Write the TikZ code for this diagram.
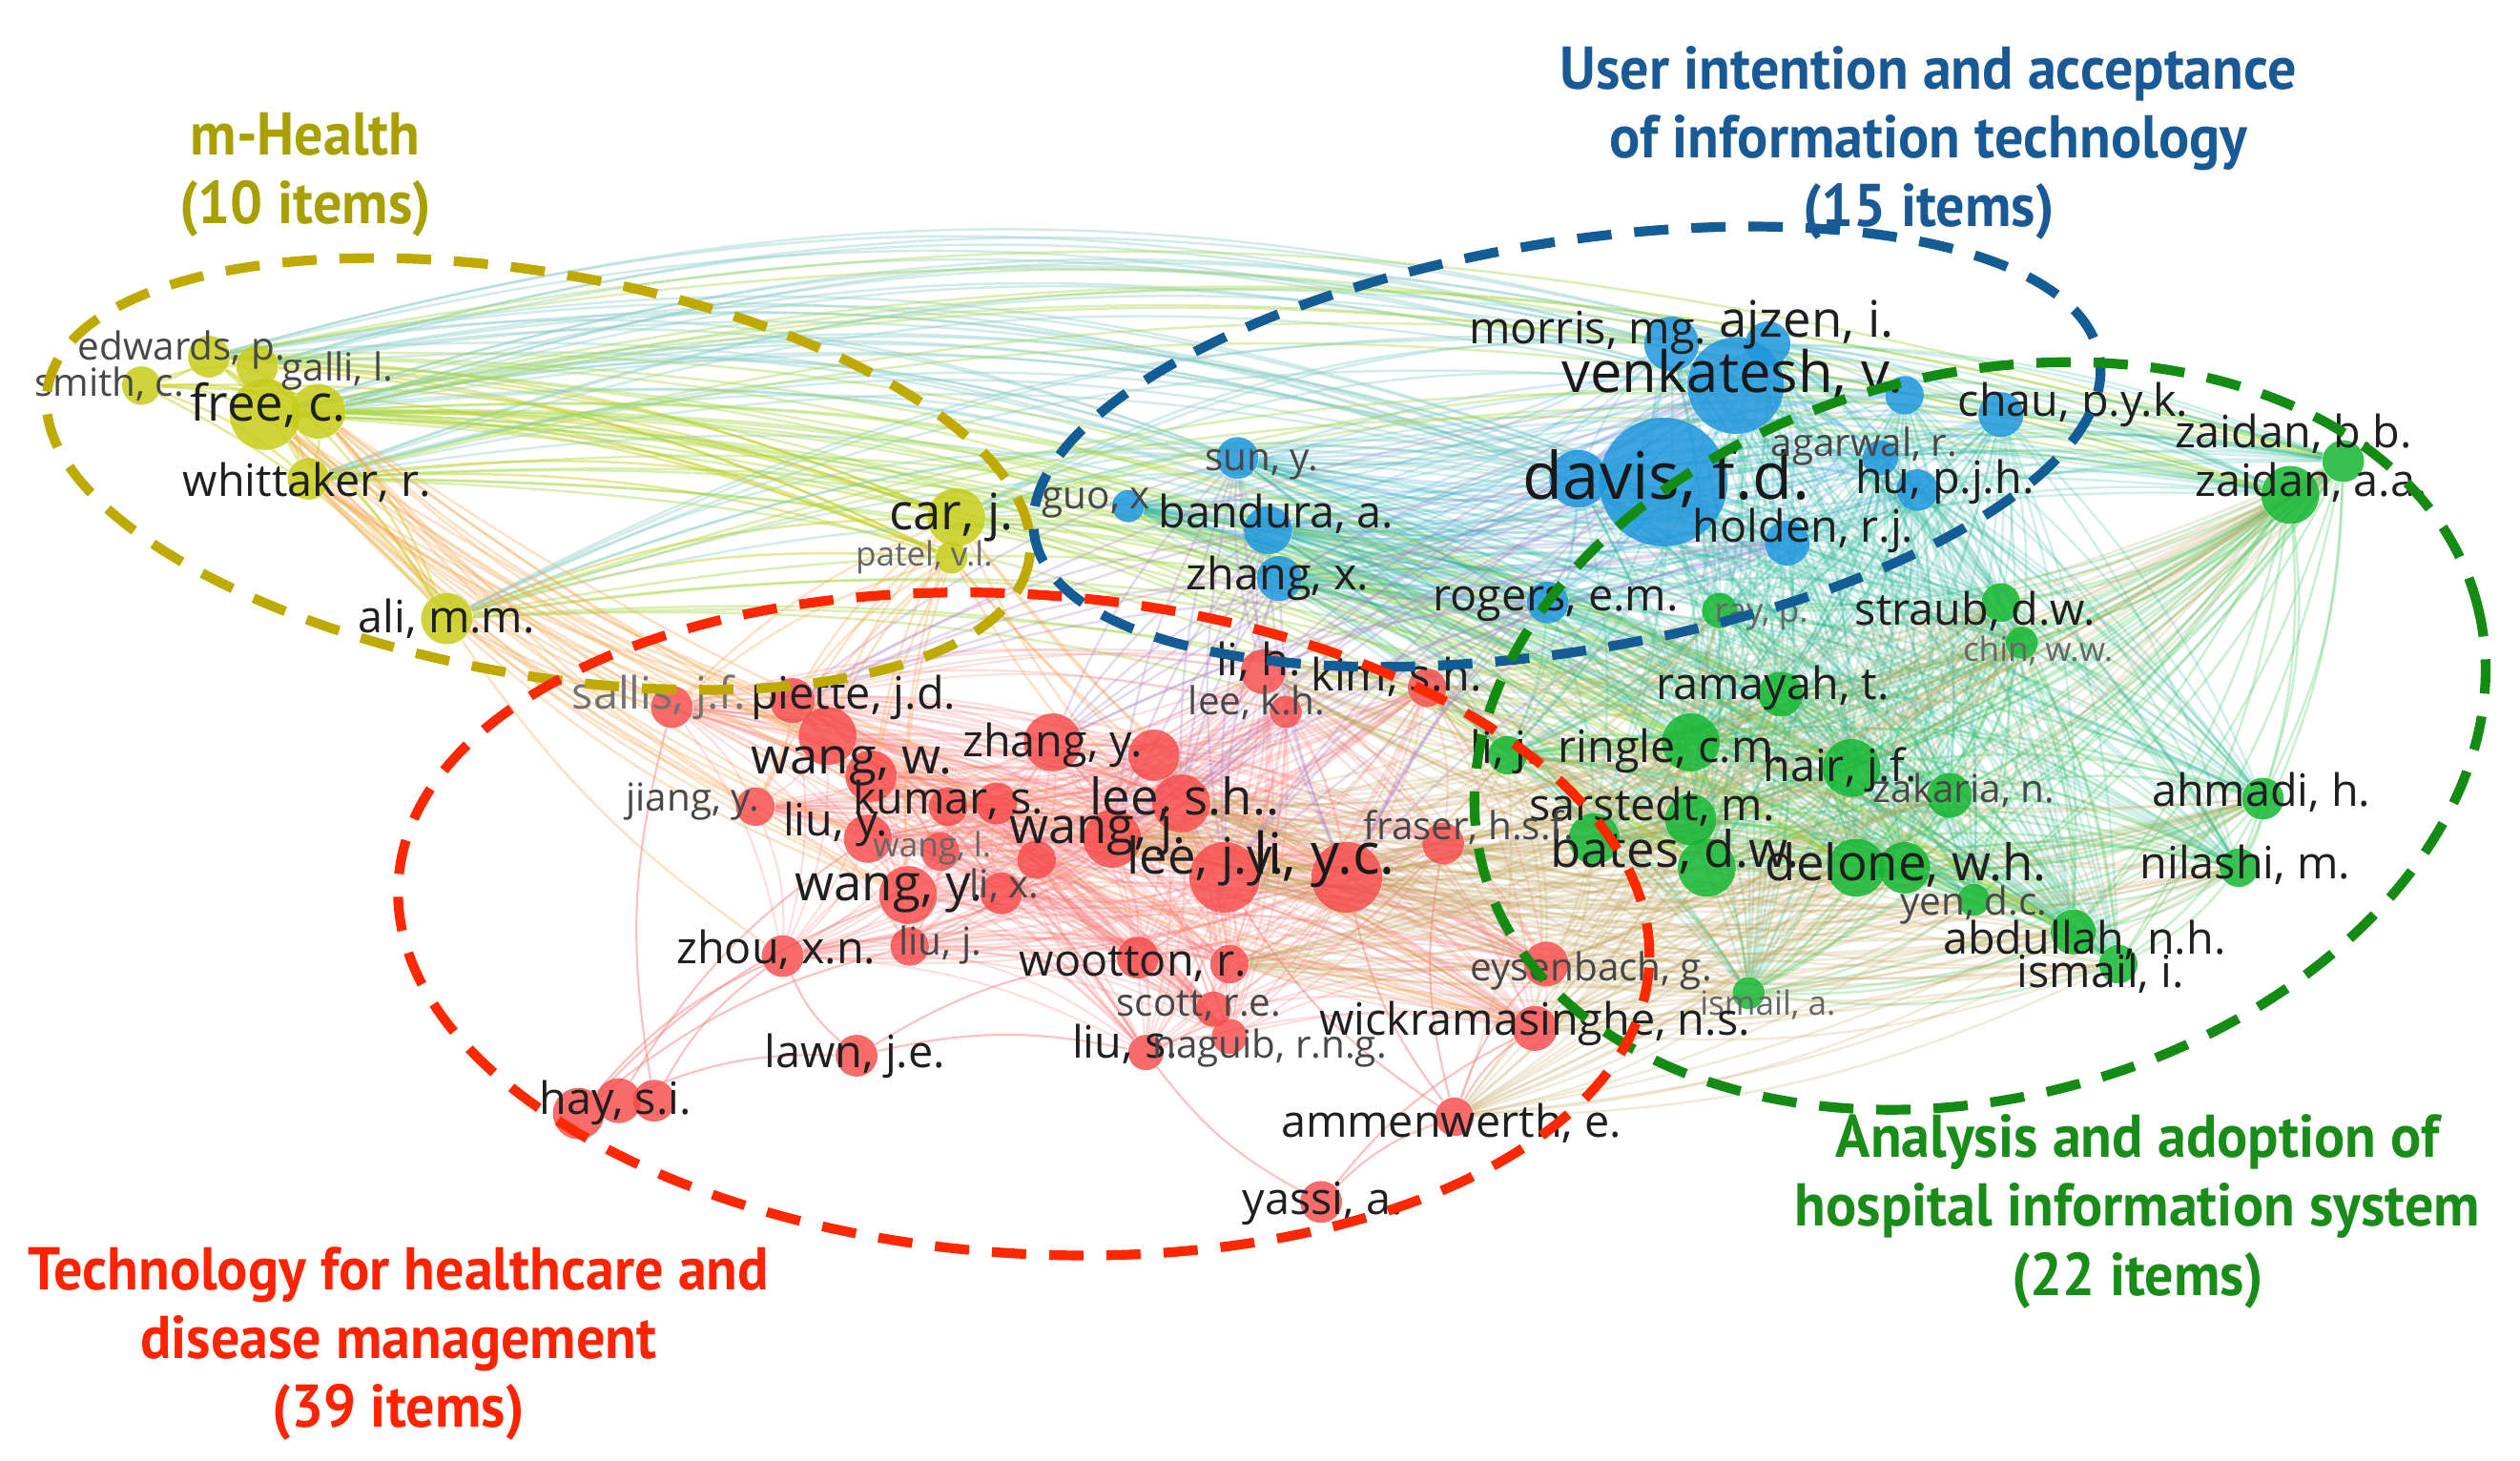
\documentclass[tikz,border=0pt]{standalone}
\usepackage{fontspec}
\setmainfont{Open Sans}
\newfontfamily\ttlfont[FakeStretch=0.95]{PT Sans}
\usetikzlibrary{positioning}
\pgfdeclarelayer{background}
\pgfsetlayers{background,main}

\definecolor{ycol}{RGB}{198,204,24}
\definecolor{bcol}{RGB}{30,150,220}
\definecolor{gcol}{RGB}{20,182,50}
\definecolor{rcol}{RGB}{246,70,70}
\definecolor{yell}{RGB}{190,170,0}
\definecolor{bell}{RGB}{20,92,150}
\definecolor{gell}{RGB}{20,140,20}
\definecolor{rell}{RGB}{255,40,0}
\definecolor{ytt}{RGB}{168,160,0}
\definecolor{btt}{RGB}{25,90,150}
\definecolor{gtt}{RGB}{25,140,25}
\definecolor{rtt}{RGB}{255,35,0}

\begin{document}
\begin{tikzpicture}[x=0.1685mm, y=-0.1685mm,
    ynd/.style={circle, inner sep=0pt, fill=ycol, fill opacity=0.85, minimum size=#1*0.959pt},
    bnd/.style={circle, inner sep=0pt, fill=bcol, fill opacity=0.85, minimum size=#1*0.959pt},
    gnd/.style={circle, inner sep=0pt, fill=gcol, fill opacity=0.85, minimum size=#1*0.959pt},
    rnd/.style={circle, inner sep=0pt, fill=rcol, fill opacity=0.8, minimum size=#1*0.959pt},
    lt/.style={font=\fontsize{10}{12}\selectfont, text=black!60, inner sep=0pt},
    ls/.style={font=\fontsize{11.5}{13}\selectfont, text=black!72, inner sep=0pt},
    ln/.style={font=\fontsize{13.3}{15}\selectfont, text=black!88, inner sep=0pt},
    lb/.style={font=\fontsize{15}{17}\selectfont, text=black!88, inner sep=0pt},
    lh/.style={font=\fontsize{17}{19}\selectfont, text=black!90, inner sep=0pt},
    lg/.style={font=\fontsize{19.5}{22}\selectfont, text=black!90, inner sep=0pt},
    yedge/.style={draw=ycol, line width=0.7pt, opacity=0.45},
    bedge/.style={draw=bcol!70, line width=0.7pt, opacity=0.3},
    gedge/.style={draw=gcol!75, line width=0.7pt, opacity=0.3},
    redge/.style={draw=rcol!75, line width=0.6pt, opacity=0.24},
    ybedge/.style={draw={rgb,255:red,140;green,205;blue,200}, line width=0.7pt, opacity=0.4},
    ygedge/.style={draw={rgb,255:red,165;green,215;blue,70}, line width=0.7pt, opacity=0.4},
    yredge/.style={draw={rgb,255:red,248;green,170;blue,90}, line width=0.7pt, opacity=0.35},
    bgedge/.style={draw={rgb,255:red,40;green,180;blue,150}, line width=0.7pt, opacity=0.22},
    rgedge/.style={draw={rgb,255:red,190;green,160;blue,90}, line width=0.7pt, opacity=0.22},
    rbedge/.style={draw={rgb,255:red,170;green,130;blue,200}, line width=0.7pt, opacity=0.3},
    cldash/.style={line width=2.9pt, dash pattern=on 3.6mm off 2.4mm},
    ttl/.style={font=\ttlfont\bfseries\fontsize{18}{20.5}\selectfont, align=center, inner sep=0pt}
]
\useasboundingbox (0,0) rectangle (1568,909);

% m-Health
\node[ynd=13] (y1) at (130,222) {};
\node[ynd=12] (y2) at (88,240) {};
\node[ynd=22] (y3) at (165,258) {};
\node[ynd=17] (y4) at (198,256) {};
\node[ynd=13] (y5) at (160,228) {};
\node[ynd=13] (y6) at (192,298) {};
\node[ynd=16] (y7) at (278,385) {};
\node[ynd=18] (y8) at (595,322) {};
\node[ynd=10] (y9) at (592,347) {};

% user intention and acceptance
\node[bnd=40] (b1) at (1035,300) {};
\node[bnd=18] (b2) at (982,298) {};
\node[bnd=30] (b3) at (1080,240) {};
\node[bnd=17] (b4) at (1040,214) {};
\node[bnd=14] (b5) at (1100,214) {};
\node[bnd=14] (b6) at (1245,258) {};
\node[bnd=11] (b7) at (1170,285) {};
\node[bnd=13] (b8) at (1193,305) {};
\node[bnd=14] (b9) at (1112,338) {};
\node[bnd=13] (b10) at (963,375) {};
\node[bnd=14] (b11) at (796,360) {};
\node[bnd=15] (b12) at (789,330) {};
\node[bnd=13] (b13) at (770,285) {};
\node[bnd=10] (b14) at (702,315) {};
\node[bnd=12] (b15) at (1185,246) {};

% hospital information system
\node[gnd=18] (g1) at (1425,308) {};
\node[gnd=13] (g2) at (1458,287) {};
\node[gnd=12] (g3) at (1245,375) {};
\node[gnd=11] (g4) at (1070,380) {};
\node[gnd=10] (g5) at (1258,400) {};
\node[gnd=14] (g6) at (1108,432) {};
\node[gnd=12] (g7) at (938,470) {};
\node[gnd=18] (g8) at (1052,462) {};
\node[gnd=18] (g9) at (1152,478) {};
\node[gnd=14] (g10) at (1213,495) {};
\node[gnd=13] (g11) at (1408,497) {};
\node[gnd=16] (g12) at (1052,510) {};
\node[gnd=18] (g13) at (1062,540) {};
\node[gnd=16] (g14) at (992,522) {};
\node[gnd=18] (g15) at (1155,540) {};
\node[gnd=16] (g16) at (1185,540) {};
\node[gnd=12] (g17) at (1393,540) {};
\node[gnd=10] (g18) at (1228,560) {};
\node[gnd=14] (g19) at (1290,580) {};
\node[gnd=12] (g20) at (1318,600) {};
\node[gnd=10] (g21) at (1088,618) {};

% healthcare and disease management
\node[rnd=13] (r1) at (418,440) {};
\node[rnd=14] (r2) at (493,436) {};
\node[rnd=14] (r3) at (786,418) {};
\node[rnd=10] (r4) at (800,443) {};
\node[rnd=12] (r5) at (888,428) {};
\node[rnd=18] (r6) at (655,462) {};
\node[rnd=16] (r7) at (718,470) {};
\node[rnd=18] (r8) at (515,458) {};
\node[rnd=16] (r9) at (542,483) {};
\node[rnd=12] (r10) at (590,502) {};
\node[rnd=18] (r11) at (735,500) {};
\node[rnd=12] (r12) at (470,502) {};
\node[rnd=15] (r13) at (540,522) {};
\node[rnd=18] (r14) at (692,522) {};
\node[rnd=12] (r15) at (585,530) {};
\node[rnd=22] (r16) at (762,546) {};
\node[rnd=22] (r17) at (838,546) {};
\node[rnd=13] (r18) at (898,525) {};
\node[rnd=18] (r19) at (565,557) {};
\node[rnd=13] (r20) at (623,556) {};
\node[rnd=13] (r21) at (487,595) {};
\node[rnd=12] (r22) at (566,589) {};
\node[rnd=13] (r23) at (708,596) {};
\node[rnd=12] (r24) at (765,600) {};
\node[rnd=11] (r25) at (755,628) {};
\node[rnd=11] (r26) at (713,655) {};
\node[rnd=11] (r27) at (765,645) {};
\node[rnd=14] (r28) at (962,600) {};
\node[rnd=14] (r29) at (955,640) {};
\node[rnd=13] (r30) at (533,657) {};
\node[rnd=16] (r31) at (360,693) {};
\node[rnd=14] (r32) at (385,685) {};
\node[rnd=13] (r33) at (407,685) {};
\node[rnd=12] (r34) at (905,695) {};
\node[rnd=13] (r35) at (822,748) {};
\node[rnd=13] (r36) at (620,500) {};
\node[rnd=12] (r37) at (645,535) {};

\begin{pgfonlayer}{background}
% links inside the clusters
\foreach \i in {1,...,8}{\pgfmathtruncatemacro\k{\i+1}
  \foreach \j in {\k,...,9}{\draw[yedge] (y\i) to[bend left=10] (y\j);}}
\foreach \i in {1,...,14}{\pgfmathtruncatemacro\k{\i+1}
  \foreach \j in {\k,...,15}{\draw[bedge] (b\i) to[bend left=12] (b\j);}}
\foreach \i in {1,...,20}{\pgfmathtruncatemacro\k{\i+1}
  \foreach \j in {\k,...,21}{\draw[gedge] (g\i) to[bend left=12] (g\j);}}
\foreach \i in {1,...,28}{\pgfmathtruncatemacro\k{\i+1}
  \foreach \j in {\k,...,29}{\draw[redge] (r\i) to[bend left=12] (r\j);}}
\foreach \i in {1,...,29}{\draw[redge] (r\i) to[bend left=12] (r36); \draw[redge] (r\i) to[bend left=12] (r37);}
\foreach \a/\b in {31/21,31/22,32/30,33/21,31/19,32/13,30/21,30/26,30/23,35/26,35/34,35/29,34/29,34/28,34/17,34/16,34/18,33/1}
  {\draw[redge, opacity=0.45] (r\a) to[bend left=12] (r\b);}
% links between the clusters
\foreach \i in {1,3,4,5,6,7,8}{\foreach \j in {1,2,3,4,5,9,10,13}
  {\draw[ybedge] (y\i) to[bend left=15] (b\j);}}
\foreach \i in {1,3,4,6,7,8}{\foreach \j in {1,2,6,8,9,13,15,19}
  {\draw[ygedge] (y\i) to[bend left=14] (g\j);}}
\foreach \i in {3,4,6,8,9}{\foreach \j in {1,2,8,12,13,16,17,19,29}
  {\draw[yredge] (y\i) to[bend right=10] (r\j);}}
\foreach \j in {1,8,19,21}{\draw[yredge] (y7) to[bend right=10] (r\j);}
\foreach \i in {1,...,15}{\foreach \j in {1,...,21}
  {\draw[bgedge] (b\i) to[bend left=10] (g\j);}}
\foreach \i in {3,5,11,14,16,17,18,24,28,29,34}{\foreach \j in {1,...,21}
  {\draw[rgedge] (r\i) to[bend right=12] (g\j);}}
\foreach \i in {2,3,6,11,14,16,17}{\foreach \j in {1,3,9,10,11,12,13}
  {\draw[rbedge] (r\i) to[bend left=10] (b\j);}}
\end{pgfonlayer}

% labels
\node[ls] (ty1) at (113,218) {edwards, p.};
\node[ls] (ty2) at (68,239) {smith, c.};
\node[lb] (ty3) at (167,252) {free, c.};
\node[ls] (ty4) at (210,231) {galli, l.};
\node[ln] (ty6) at (191,300) {whittaker, r.};
\node[ln] (ty7) at (278,385) {ali, m.m.};
\node[lb] (ty8) at (592,322) {car, j.};
\node[lt] (ty9) at (575,347) {patel, v.l.};

\node[lg] (tb1) at (1037,298) {davis, f.d.};
\node[lh] (tb3) at (1078,233) {venkatesh, v.};
\node[ln] (tb4) at (988,207) {morris, mg.};
\node[lb] (tb5) at (1124,202) {ajzen, i.};
\node[ln] (tb6) at (1290,252) {chau, p.y.k.};
\node[ls] (tb7) at (1160,278) {agarwal, r.};
\node[ln] (tb8) at (1210,300) {hu, p.j.h.};
\node[ln] (tb9) at (1122,330) {holden, r.j.};
\node[ln] (tb10) at (968,376) {rogers, e.m.};
\node[ln] (tb11) at (795,360) {zhang, x.};
\node[ln] (tb12) at (794,320) {bandura, a.};
\node[ls] (tb13) at (785,289) {sun, y.};
\node[ls] (tb14) at (682,313) {guo, x};

\node[ln] (tg2) at (1427,270) {zaidan, b.b.};
\node[ln] (tg1) at (1438,300) {zaidan, a.a.};
\node[ln] (tg3) at (1229,380) {straub, d.w.};
\node[lt] (tg4) at (1096,384) {ray, p.};
\node[lt] (tg5) at (1268,405) {chin, w.w.};
\node[ln] (tg6) at (1103,428) {ramayah, t.};
\node[ln] (tg7) at (936,468) {li, j.};
\node[ln] (tg8) at (1040,467) {ringle, c.m.};
\node[ln] (tg9) at (1145,479) {hair, j.f.};
\node[ls] (tg10) at (1222,492) {zakaria, n.};
\node[ln] (tg11) at (1407,493) {ahmadi, h.};
\node[ln] (tg12) at (1028,502) {sarstedt, m.};
\node[lb] (tg13) at (1042,530) {bates, d.w.};
\node[lb] (tg15) at (1186,538) {delone, w.h.};
\node[ln] (tg17) at (1397,538) {nilashi, m.};
\node[ls] (tg18) at (1228,563) {yen, d.c.};
\node[ln] (tg19) at (1297,585) {abdullah, n.h.};
\node[ln] (tg20) at (1307,606) {ismail, i.};
\node[lt] (tg21) at (1100,625) {ismail, a.};

\node[ln, text=black!55] (tr1) at (410,434) {sallis, j.f.};
\node[ln] (tr2) at (531,434) {piette, j.d.};
\node[ln] (tr3) at (783,412) {li, h.};
\node[ls] (tr4) at (782,437) {lee, k.h.};
\node[ln] (tr5) at (869,421) {kim, s.h.};
\node[ln] (tr6) at (655,464) {zhang, y.};
\node[lb] (tr8) at (530,477) {wang, w.};
\node[ln] (tr10) at (590,498) {kumar, s.};
\node[lb] (tr11) at (737,497) {lee, s.h..};
\node[ls] (tr12) at (431,499) {jiang, y.};
\node[ln] (tr13) at (520,513) {liu, y.};
\node[lb] (tr14) at (683,517) {wang, j.};
\node[lt] (tr15) at (580,528) {wang, l.};
\node[lb] (tr16) at (750,536) {lee, j.y.};
\node[lh] (tr17) at (824,535) {li, y.c.};
\node[ls] (tr18) at (914,515) {fraser, h.s.f.};
\node[lb] (tr19) at (553,556) {wang, y.};
\node[ls] (tr20) at (625,551) {li, x.};
\node[ln] (tr21) at (483,591) {zhou, x.n.};
\node[ls] (tr22) at (585,588) {liu, j.};
\node[ln] (tr23) at (705,600) {wootton, r.};
\node[ls] (tr25) at (746,626) {scott, r.e.};
\node[ln] (tr26) at (700,650) {liu, s.};
\node[ls] (tr27) at (790,652) {naguib, r.n.g.};
\node[ls] (tr28) at (990,604) {eysenbach, g.};
\node[ln] (tr29) at (955,637) {wickramasinghe, n.s.};
\node[ln] (tr30) at (532,657) {lawn, j.e.};
\node[ln] (tr31) at (383,686) {hay, s.i.};
\node[ln] (tr34) at (903,699) {ammenwerth, e.};
\node[ln] (tr35) at (823,749) {yassi, a.};

% cluster outlines
\draw[cldash, draw=yell, rotate around={-10:(335,295)}] (335,295) ellipse [x radius=310, y radius=125];
\draw[cldash, draw=bell, rotate around={9.5:(975,278)}] (975,278) ellipse [x radius=336, y radius=127];
\draw[cldash, draw=gell, rotate around={15:(1232,458)}] (1232,458) ellipse [x radius=320, y radius=225];
\draw[cldash, draw=rell, rotate around={-4:(637,575)}] (637,575) ellipse [x radius=390, y radius=205];

% cluster titles
\node[ttl, text=ytt] (tY) at (190,109) {m-Health\\(10 items)};
\node[ttl, text=btt] (tB) at (1200,89) {User intention and acceptance\\of information technology\\(15 items)};
\node[ttl, text=gtt] (tG) at (1330,754) {Analysis and adoption of\\hospital information system\\(22 items)};
\node[ttl, text=rtt] (tR) at (248,836) {Technology for healthcare and\\disease management\\(39 items)};
\end{tikzpicture}
\end{document}
